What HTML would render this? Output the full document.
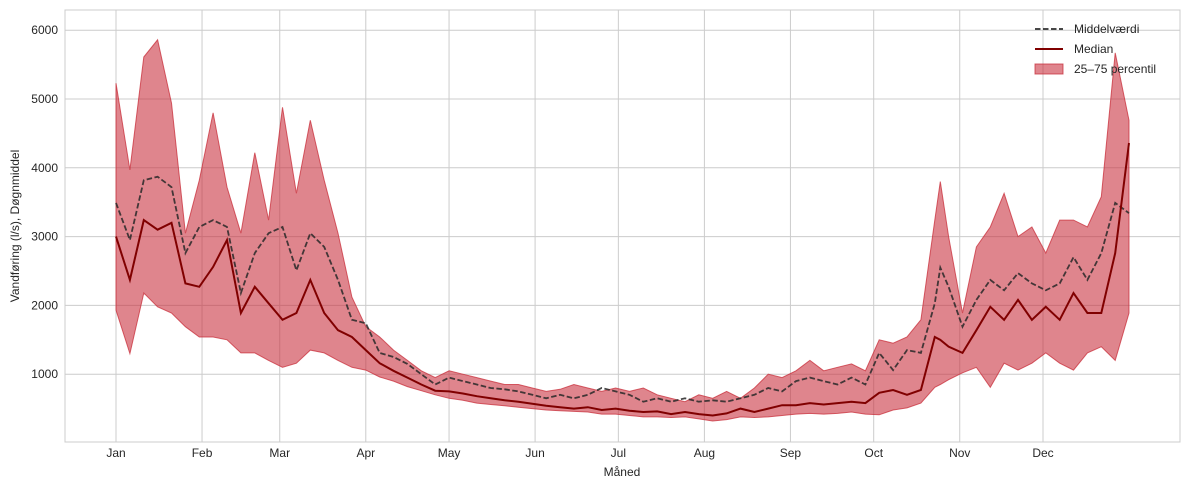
<!DOCTYPE html>
<html><head><meta charset="utf-8"><style>
body{margin:0;background:#fff;font-family:"Liberation Sans",sans-serif}
svg text{font-family:"Liberation Sans",sans-serif;fill:#262626}
</style></head><body>
<svg id="chart" width="1189" height="490" viewBox="0 0 1189 490"></svg>
<script>
const days=[0,5,10,15,20,25,30,35,40,45,50,55,60,65,70,75,80,85,90,95,100,105,110,115,120,125,130,135,140,145,150,155,160,165,170,175,180,185,190,195,200,205,210,215,220,225,230,235,240,245,250,255,260,265,270,275,280,285,290,295,297,300,305,310,315,320,325,330,335,340,345,350,355,360,365];
const meanVals=[3490,2950,3820,3870,3720,2760,3140,3240,3140,2180,2760,3050,3140,2510,3050,2850,2370,1790,1740,1310,1250,1150,1000,850,950,900,850,800,780,750,700,650,700,650,700,800,750,700,600,650,600,650,600,620,600,650,700,800,750,900,950,900,850,950,850,1310,1060,1350,1310,2030,2550,2270,1690,2080,2370,2220,2470,2320,2220,2320,2700,2370,2760,3490,3340];
const medianVals=[3000,2370,3240,3100,3200,2320,2270,2560,2950,1890,2270,2030,1790,1890,2370,1890,1640,1540,1350,1160,1050,950,850,760,750,720,680,650,620,600,570,540,520,500,520,480,500,470,450,460,420,450,420,400,430,500,450,500,550,550,580,560,580,600,580,730,770,700,770,1540,1500,1400,1310,1640,1980,1790,2080,1790,1980,1790,2180,1890,1890,2760,4360];
const p75Vals=[5230,3970,5610,5860,4940,3050,3820,4800,3720,3050,4220,3240,4880,3630,4690,3820,3050,2120,1690,1540,1350,1200,1050,950,1050,1000,950,900,850,850,800,750,780,850,800,750,800,750,800,700,650,600,700,650,750,650,800,1000,950,1050,1200,1050,1100,1150,1050,1500,1450,1540,1790,3240,3800,3000,1890,2850,3140,3630,3000,3140,2760,3240,3240,3140,3580,5670,4690];
const p25Vals=[1930,1300,2180,1980,1890,1690,1540,1540,1500,1310,1310,1200,1100,1160,1350,1310,1200,1100,1060,960,900,820,760,700,650,620,580,560,540,520,500,480,470,460,450,420,420,400,380,380,370,380,350,320,340,380,370,380,400,420,430,420,430,450,420,410,480,510,580,810,850,920,1020,1100,810,1160,1060,1160,1310,1160,1060,1310,1400,1200,1890];
const yTicks=[1000,2000,3000,4000,5000,6000];
const monthNames=["Jan","Feb","Mar","Apr","May","Jun","Jul","Aug","Sep","Oct","Nov","Dec"];
const monthStart=[0,31,59,90,120,151,181,212,243,273,304,334];

const NS="http://www.w3.org/2000/svg";
const svg=document.getElementById('chart');
const L=65,R=1180,T=10,B=442;
const xs=d=>116+d*(1043-116)/334;
const ys=v=>443-v*0.0688;
function mk(tag,attrs,parent){const e=document.createElementNS(NS,tag);for(const k in attrs)e.setAttribute(k,attrs[k]);(parent||svg).appendChild(e);return e;}

const grid=mk('g',{});


yTicks.forEach(v=>{
  const l=mk('line',{x1:L,x2:R,y1:ys(v),y2:ys(v),stroke:'#cccccc','stroke-width':1},grid);
  
  
  const t=mk('text',{x:58,y:ys(v)+4,'text-anchor':'end','font-size':12});
  t.textContent=v;
  
  
});
monthStart.forEach((d,i)=>{
  const l=mk('line',{x1:xs(d),x2:xs(d),y1:T,y2:B,stroke:'#cccccc','stroke-width':1},grid);
  
  
  const t=mk('text',{x:xs(d),y:457,'text-anchor':'middle','font-size':12});
  t.textContent=monthNames[i];
  
  
});
const frame=mk('rect',{x:L,y:T,width:R-L,height:B-T,fill:'none',stroke:'#cccccc','stroke-width':1});



let dArea='';
days.forEach((d,i)=>{dArea+=(i?'L':'M')+xs(d).toFixed(1)+','+ys(p75Vals[i]).toFixed(1);});
for(let i=days.length-1;i>=0;i--)dArea+='L'+xs(days[i]).toFixed(1)+','+ys(p25Vals[i]).toFixed(1);
const band=mk('path',{d:dArea+'Z',fill:'rgba(200,45,58,0.58)',stroke:'rgba(200,45,58,0.75)','stroke-width':1});



function line(vals,attrs,name){
  const p=vals.map((v,i)=>(i?'L':'M')+xs(days[i]).toFixed(1)+','+ys(v).toFixed(1)).join('');
  const e=mk('path',Object.assign({d:p,fill:'none'},attrs));
  
  
}
line(meanVals,{stroke:'rgba(40,40,40,0.85)','stroke-width':1.8,'stroke-dasharray':'5.5,2.5'},'mean-line');
line(medianVals,{stroke:'#800000','stroke-width':2},'median-line');

const xt=mk('text',{x:622,y:476,'text-anchor':'middle','font-size':12});
xt.textContent='Måned';


const yt=mk('text',{x:19,y:226,'text-anchor':'middle','font-size':12,transform:'rotate(-90 19 226)'});
yt.textContent='Vandføring (l/s), Døgnmiddel';



const lg=mk('g',{});


const e1=mk('line',{x1:1035,x2:1063,y1:29,y2:29,stroke:'rgba(40,40,40,0.85)','stroke-width':2,'stroke-dasharray':'5.5,2.5'},lg);


const t1=mk('text',{x:1074,y:33,'font-size':12},lg);t1.textContent='Middelværdi';


const e2=mk('line',{x1:1035,x2:1063,y1:49,y2:49,stroke:'#800000','stroke-width':2},lg);


const t2=mk('text',{x:1074,y:53,'font-size':12},lg);t2.textContent='Median';


const e3=mk('rect',{x:1035,y:64,width:28,height:10,fill:'rgba(200,45,58,0.58)',stroke:'rgba(200,45,58,0.75)'},lg);


const t3=mk('text',{x:1074,y:73,'font-size':12},lg);t3.textContent='25–75 percentil';


</script>
</body></html>
